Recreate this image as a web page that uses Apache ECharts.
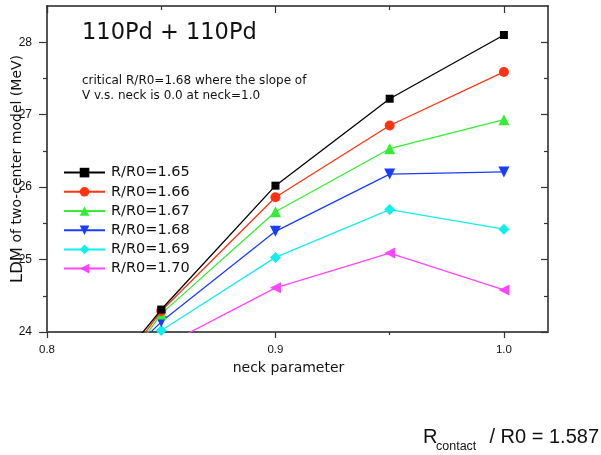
<!DOCTYPE html>
<html>
<head>
<meta charset="utf-8">
<script src="https://cdn.jsdelivr.net/npm/echarts@6/dist/echarts.min.js"></script>
<style>html,body{margin:0;padding:0;background:#fff;}#c{width:601px;height:455px;}</style>
</head>
<body>
<div id="c"></div>
<script>
// neck parameter values (x)
var neck = [0.80, 0.85, 0.90, 0.95, 1.00];
// series names
var seriesNames = ['R/R0=1.65', 'R/R0=1.66', 'R/R0=1.67', 'R/R0=1.68', 'R/R0=1.69', 'R/R0=1.70'];
// LDM energies (MeV); values at 0.80 (and 1.70 at 0.85) lie below the plotted range
var v165 = [22.37, 24.31, 26.02, 27.22, 28.10];
var v166 = [22.16, 24.29, 25.86, 26.85, 27.59];
var v167 = [22.06, 24.25, 25.66, 26.53, 26.93];
var v168 = [22.59, 24.14, 25.39, 26.18, 26.21];
var v169 = [23.00, 24.02, 25.03, 25.69, 25.42];
var v170 = [23.00, 23.79, 24.61, 25.09, 24.58];
// tick values
var xMajor = [0.8, 0.9, 1.0];
var xMinor = [0.85, 0.95];
var yMajor = [24, 25, 26, 27, 28];
var yMinor = [24.5, 25.5, 26.5, 27.5];

var allValues = [v165, v166, v167, v168, v169, v170];
var colors = ['#000000', '#ff3311', '#33ee33', '#1a3cff', '#11eeee', '#ff44ff'];
var symbols = ['rect', 'circle', 'triangle', 'triangle', 'diamond', 'triangle'];
var rotates = [0, 0, 0, 180, 0, 90];
var sizes = [8, 10, 11, 11, 11, 11];

var XMIN = 0.8, XMAX = 1.0193, YMIN = 24, YMAX = 28.5;
var sans = '"DejaVu Sans", sans-serif';

function xAx(pos, ticks, len, inside, showLine, lineW, lineC, showLabel) {
  return {
    type: 'value', position: pos, min: XMIN, max: XMAX,
    axisLine: {show: showLine, onZero: false, lineStyle: {color: lineC, width: lineW}},
    axisTick: {show: true, inside: inside, length: len, customValues: ticks, lineStyle: {color: '#333', width: 1.2}},
    axisLabel: showLabel ? {show: true, customValues: xMajor, margin: 12, fontFamily: '"Liberation Sans", Arial, sans-serif', fontSize: 11.5, color: '#111', formatter: function (v) { return v.toFixed(1); }} : {show: false},
    splitLine: {show: false}
  };
}
function yAx(pos, ticks, len, inside, showLine, lineW, lineC, showLabel) {
  return {
    type: 'value', position: pos, min: YMIN, max: YMAX,
    axisLine: {show: showLine, onZero: false, lineStyle: {color: lineC, width: lineW}},
    axisTick: {show: true, inside: inside, length: len, customValues: ticks, lineStyle: {color: '#333', width: 1.2}},
    axisLabel: showLabel ? {show: true, customValues: yMajor, margin: 15, fontFamily: '"Liberation Sans", Arial, sans-serif', fontSize: 12, color: '#111'} : {show: false},
    splitLine: {show: false}
  };
}

var xAxes = [
  xAx('bottom', xMajor, 6, false, true, 2, '#555', true),
  xAx('bottom', xMinor, 3, false, false, 1, '#555', false),
  xAx('top', xMajor.concat([0.8]), 7, true, true, 1.5, '#222', false),
  xAx('top', xMinor, 4, true, false, 1, '#222', false)
];
xAxes[0].name = 'neck parameter';
xAxes[0].nameLocation = 'middle';
xAxes[0].nameGap = 29;
xAxes[0].nameMoveOverlap = false;
xAxes[0].nameTextStyle = {fontFamily: sans, fontSize: 14, color: '#111', padding: [0, 18, 0, 0]};

var yAxes = [
  yAx('left', yMajor, 8, false, true, 2, '#555', true),
  yAx('left', yMinor, 4, false, false, 1, '#555', false),
  yAx('right', yMajor, 7, true, true, 1.5, '#222', false),
  yAx('right', yMinor, 4, true, false, 1, '#222', false)
];
yAxes[0].name = '{big|LDM} of two-center model (MeV)';
yAxes[0].nameLocation = 'middle';
yAxes[0].nameGap = 21;
yAxes[0].nameMoveOverlap = false;
yAxes[0].nameTextStyle = {fontFamily: sans, fontSize: 14, color: '#111', rich: {big: {fontFamily: sans, fontSize: 16.5, color: '#111'}}};

var series = seriesNames.map(function (name, i) {
  return {
    name: name, type: 'line', xAxisIndex: 0, yAxisIndex: 0,
    data: neck.map(function (x, j) { return [x, allValues[i][j]]; }),
    symbol: symbols[i], symbolSize: sizes[i], symbolRotate: rotates[i],
    showSymbol: true, clip: true, animation: false, z: 10 - i,
    lineStyle: {color: colors[i], width: 1.3},
    itemStyle: {color: colors[i], borderWidth: 0}
  };
});

var chart = echarts.init(document.getElementById('c'), null, {renderer: 'canvas'});
chart.setOption({
  animation: false,
  backgroundColor: '#ffffff',
  grid: {left: 47, right: 53, top: 6, bottom: 123, containLabel: false},
  xAxis: xAxes,
  yAxis: yAxes,
  legend: {
    orient: 'vertical', left: 63, top: 163, padding: 0,
    itemWidth: 41, itemHeight: 12, itemGap: 0,
    textStyle: {fontFamily: sans, fontSize: 14.5, color: '#111', lineHeight: 19.2, padding: [0, 0, 0, 1]},
    data: seriesNames
  },
  graphic: [
    {type: 'text', x: 82, y: 33, style: {text: '110Pd + 110Pd', font: '22.5px ' + sans, fill: '#111', align: 'left', verticalAlign: 'middle'}},
    {type: 'text', x: 82, y: 80.5, style: {text: 'critical R/R0=1.68 where the slope of', font: '12px ' + sans, fill: '#111', align: 'left', verticalAlign: 'middle'}},
    {type: 'text', x: 82, y: 95.5, style: {text: 'V v.s. neck is 0.0 at neck=1.0', font: '12px ' + sans, fill: '#111', align: 'left', verticalAlign: 'middle'}},
    {type: 'text', x: 423, y: 437, style: {text: 'R', font: '20px "Liberation Sans", Arial, sans-serif', fill: '#111', align: 'left', verticalAlign: 'middle'}},
    {type: 'text', x: 436, y: 447, style: {text: 'contact', font: '12.5px "Liberation Sans", Arial, sans-serif', fill: '#111', align: 'left', verticalAlign: 'middle'}},
    {type: 'text', x: 599, y: 437, style: {text: '/ R0 = 1.587', font: '20px "Liberation Sans", Arial, sans-serif', fill: '#111', align: 'right', verticalAlign: 'middle'}}
  ],
  series: series
});
</script>
</body>
</html>
